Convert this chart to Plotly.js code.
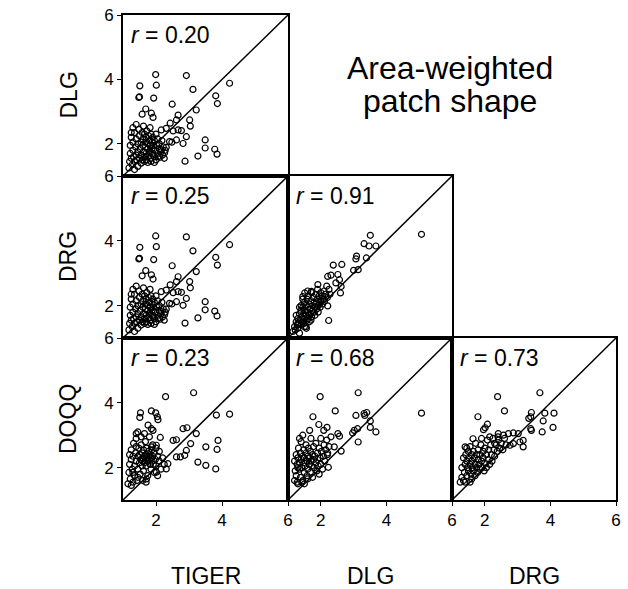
<!DOCTYPE html>
<html>
<head>
<meta charset="utf-8">
<script src="https://cdn.plot.ly/plotly-3.0.1.min.js"></script>
<style>html,body{margin:0;padding:0;background:#fff}#chart{width:628px;height:589px}</style>
</head>
<body>
<div id="chart"></div>
<script>
// Variables (row / column labels)
const rowLabels = ["DLG", "DRG", "DOQQ"];
const colLabels = ["TIGER", "DLG", "DRG"];
const titleLines = ["Area-weighted", "patch shape"];
const tickValues = [2, 4, 6];
const axisRange = [1, 6];

// Correlation coefficients per panel
const rTigerDlg = "0.20";
const rTigerDrg = "0.25";
const rDlgDrg = "0.91";
const rTigerDoqq = "0.23";
const rDlgDoqq = "0.68";
const rDrgDoqq = "0.73";

// Points [x, y]
// TIGER (x) vs DLG (y); the TIGER vs DRG panel shows the same scatter
const tigerVsDlg = [
  [1.99,4.15],[2.92,4.12],[1.51,3.80],[2.01,3.82],[3.12,3.69],[4.23,3.88],[1.48,3.44],[1.50,3.46],
  [1.93,3.42],[3.81,3.49],[3.86,3.25],[2.49,3.23],[3.22,3.05],[1.69,3.08],[1.86,2.95],[1.91,2.82],
  [1.58,2.92],[2.67,2.89],[2.43,2.64],[3.02,2.74],[3.04,2.55],[2.62,2.74],[2.31,2.48],[2.16,2.43],
  [2.52,2.40],[2.67,2.43],[2.77,2.41],[2.92,2.22],[2.82,2.01],[2.62,2.12],[2.48,2.05],[3.49,2.12],
  [3.49,1.87],[3.78,1.83],[3.85,1.68],[3.27,1.62],[2.88,1.46],[2.31,1.89],[2.16,1.81],[2.26,1.72],
  [2.41,2.07],[2.06,1.60],[1.91,1.65],
  [1.18,1.25],[1.20,1.45],[1.22,1.70],[1.22,1.95],[1.25,2.20],[1.25,1.55],[1.28,1.35],[1.30,1.80],
  [1.30,2.05],[1.32,1.60],[1.35,2.35],[1.35,1.45],[1.38,1.90],[1.40,2.15],[1.40,1.65],[1.42,1.50],
  [1.45,2.00],[1.45,1.75],[1.48,2.45],[1.50,1.55],[1.50,2.25],[1.52,1.85],[1.55,2.05],[1.55,1.65],
  [1.58,2.35],[1.58,1.50],[1.60,1.95],[1.60,2.15],[1.62,1.75],[1.62,2.55],[1.65,1.60],[1.65,2.30],
  [1.68,1.90],[1.68,2.05],[1.70,1.70],[1.70,2.20],[1.72,1.50],[1.72,2.40],[1.75,1.85],[1.75,2.00],
  [1.78,2.25],[1.78,1.62],[1.80,2.10],[1.80,1.75],[1.82,1.95],[1.82,2.50],[1.85,1.55],[1.85,2.30],
  [1.88,1.85],[1.88,2.05],[1.90,1.70],[1.90,2.20],[1.92,1.95],[1.95,1.60],[1.95,2.10],[1.98,1.80],
  [2.00,2.30],[2.00,1.50],[2.02,1.95],[2.05,2.15],[2.05,1.70],[2.10,1.85],[2.10,2.00],[2.12,1.58],
  [2.15,1.75],[2.18,2.10],[2.20,1.65],[2.22,1.90],[2.25,1.55],[2.28,1.80],[1.35,1.20],[1.45,1.30],
  [1.55,1.40],[1.65,1.45],[1.75,1.42],[1.85,1.45],[1.95,1.42],[1.30,2.50],[1.40,2.60],[1.25,2.35]
];

// DLG (x) vs DRG (y)
const dlgVsDrg = [
  [5.07,4.20],[3.51,4.17],[3.32,3.91],[3.47,3.84],[3.68,3.84],[3.09,3.53],[3.07,3.44],[3.39,3.47],
  [3.00,3.09],[3.14,3.11],[2.38,3.25],[2.64,3.27],[2.31,2.94],[2.21,2.90],[2.52,2.96],[2.57,2.80],
  [2.46,2.70],[2.62,2.59],[2.60,2.39],[1.91,2.65],[1.71,2.44],[1.51,2.39],[1.45,2.28],[2.24,1.54],
  [1.56,1.30],[2.21,1.99],[2.01,2.18],[2.11,2.13],
  [1.15,1.20],[1.20,1.35],[1.22,1.25],[1.25,1.50],[1.28,1.40],[1.30,1.30],[1.30,1.60],[1.33,1.45],
  [1.35,1.75],[1.38,1.55],[1.40,1.40],[1.40,1.85],[1.42,1.65],[1.45,1.50],[1.45,1.95],[1.48,1.75],
  [1.50,1.60],[1.50,2.10],[1.52,1.85],[1.55,1.70],[1.55,2.00],[1.58,1.55],[1.58,2.20],[1.60,1.80],
  [1.60,1.95],[1.62,2.30],[1.65,1.70],[1.65,2.05],[1.68,1.90],[1.70,1.75],[1.70,2.15],[1.72,2.40],
  [1.75,1.85],[1.75,2.00],[1.78,2.25],[1.80,1.80],[1.80,2.10],[1.82,1.95],[1.85,2.35],[1.85,2.05],
  [1.88,1.90],[1.90,2.20],[1.90,2.50],[1.92,2.00],[1.95,2.30],[1.95,2.10],[1.98,1.95],[2.00,2.40],
  [2.00,2.15],[2.05,2.30],[2.05,2.05],[2.10,2.45],[2.10,2.20],[2.15,2.35],[2.18,2.60],[2.20,2.25],
  [2.25,2.50],[2.28,2.35],[1.30,1.45],[1.48,1.45],[1.62,1.60],[1.72,1.65],[1.35,1.15],[1.55,1.35],
  [1.65,1.50],[1.40,2.00],[1.45,2.20],[1.35,1.95],[1.25,1.70],[1.60,2.45],[1.70,1.55],[1.50,1.35],
  [1.82,1.70],[1.92,1.80]
];

// TIGER (x) vs DOQQ (y)
const tigerVsDoqq = [
  [2.29,4.19],[3.14,4.31],[1.86,3.75],[1.53,3.69],[1.51,3.55],[1.99,3.69],[2.04,3.57],[2.06,3.48],
  [3.83,3.62],[4.23,3.65],[2.82,3.20],[2.94,3.23],[3.22,3.05],[3.88,2.84],[3.51,2.64],[3.85,2.56],
  [3.05,2.74],[2.62,2.86],[2.52,2.84],[2.92,2.53],[2.87,2.38],[2.74,2.33],[2.62,2.33],[3.27,2.17],
  [3.51,2.07],[3.81,1.96],[2.36,2.12],[2.31,1.96],[2.13,2.93],[2.01,2.69],[1.86,2.64],[1.76,3.31],
  [1.86,3.20],[1.91,3.15],[1.45,3.10],[1.40,3.05],[1.71,1.65],[2.01,1.86],
  [1.15,1.50],[1.18,1.85],[1.20,2.10],[1.20,2.40],[1.22,1.65],[1.25,2.25],[1.25,2.55],[1.28,1.95],
  [1.30,1.55],[1.30,2.35],[1.32,2.75],[1.35,2.05],[1.35,1.75],[1.38,2.45],[1.40,2.20],[1.40,2.90],
  [1.42,1.60],[1.45,2.35],[1.45,1.95],[1.48,2.60],[1.50,2.15],[1.50,2.40],[1.52,1.80],[1.55,2.25],
  [1.55,2.70],[1.58,2.05],[1.58,2.45],[1.60,2.30],[1.60,2.20],[1.62,1.90],[1.62,2.55],[1.65,2.35],
  [1.65,2.15],[1.68,2.80],[1.68,2.25],[1.70,2.40],[1.70,2.05],[1.72,2.30],[1.72,2.60],[1.75,2.20],
  [1.75,1.75],[1.78,2.35],[1.78,2.50],[1.80,2.25],[1.80,2.95],[1.82,2.10],[1.82,2.40],[1.85,2.30],
  [1.85,1.95],[1.88,2.55],[1.88,2.20],[1.90,2.70],[1.90,2.35],[1.92,2.10],[1.95,2.45],[1.95,1.85],
  [1.98,2.25],[2.00,2.60],[2.00,2.05],[2.05,2.35],[2.05,1.75],[2.10,2.20],[2.10,2.50],[2.15,1.95],
  [2.20,2.30],[2.25,2.10],[1.30,1.85],[1.45,1.70],[1.60,1.60],[1.70,1.55],[1.25,1.45],[1.40,2.65],
  [1.55,2.95],[1.65,3.05]
];

// DLG (x) vs DOQQ (y)
const dlgVsDoqq = [
  [1.98,4.19],[3.14,4.31],[5.07,3.68],[2.44,3.75],[1.76,3.57],[3.07,3.61],[3.32,3.67],[3.40,3.70],
  [3.34,3.61],[1.94,3.33],[3.51,3.44],[3.51,3.24],[3.68,3.10],[3.02,3.15],[3.12,3.20],[2.97,3.07],
  [3.14,2.79],[2.52,3.05],[2.57,2.97],[2.62,2.51],[2.41,2.64],[2.23,2.01],[2.19,3.24],[2.09,3.15],
  [2.31,2.95],[1.66,3.15],[2.21,2.45],
  [1.20,1.60],[1.20,2.20],[1.22,1.90],[1.25,2.40],[1.25,1.75],[1.28,2.10],[1.30,1.50],[1.30,2.30],
  [1.32,2.60],[1.35,1.95],[1.35,2.15],[1.38,1.70],[1.38,2.45],[1.40,2.25],[1.40,2.80],[1.42,2.00],
  [1.45,2.35],[1.45,1.60],[1.48,2.15],[1.48,2.55],[1.50,1.85],[1.50,2.30],[1.52,2.05],[1.55,2.45],
  [1.55,2.70],[1.58,2.20],[1.58,1.75],[1.60,2.35],[1.60,1.95],[1.62,2.60],[1.65,2.10],[1.65,2.30],
  [1.68,1.85],[1.68,2.50],[1.70,2.20],[1.70,2.90],[1.72,2.05],[1.75,2.40],[1.75,1.70],[1.78,2.25],
  [1.78,2.65],[1.80,2.00],[1.82,2.35],[1.85,2.15],[1.85,2.75],[1.88,1.90],[1.90,2.45],[1.90,2.25],
  [1.92,2.05],[1.95,2.60],[1.95,1.80],[1.98,2.30],[2.00,2.10],[2.02,2.50],[2.05,1.95],[2.08,2.35],
  [2.10,2.70],[2.12,2.20],[2.15,2.55],[2.18,2.85],[2.20,2.40],[2.25,2.65],[1.28,1.55],[1.42,1.55],
  [1.50,1.50],[1.60,1.65],[1.35,2.90],[1.45,3.00],[2.00,2.90],[1.30,2.00]
];

// DRG (x) vs DOQQ (y)
const drgVsDoqq = [
  [2.39,4.19],[3.68,4.31],[2.60,3.75],[1.79,3.57],[3.42,3.70],[3.40,3.57],[3.34,3.52],[3.83,3.68],
  [4.11,3.68],[3.78,3.44],[4.08,3.24],[3.75,3.10],[3.40,3.20],[3.42,3.15],[2.08,3.34],[2.01,3.23],
  [1.96,3.17],[3.02,3.05],[2.87,3.07],[3.17,2.84],[3.07,2.79],[3.17,2.64],[2.77,2.69],[2.87,2.74],
  [1.64,2.89],[2.41,3.05],[2.57,3.00],[2.72,3.05],[1.40,2.64],
  [1.25,1.55],[1.30,1.70],[1.30,2.00],[1.35,1.60],[1.35,2.30],[1.38,1.85],[1.40,2.10],[1.42,2.40],
  [1.45,1.75],[1.45,2.20],[1.48,2.00],[1.50,2.50],[1.50,1.90],[1.52,2.30],[1.55,2.10],[1.55,2.65],
  [1.58,1.80],[1.60,2.40],[1.60,2.20],[1.62,2.00],[1.65,2.50],[1.65,1.90],[1.68,2.30],[1.70,2.10],
  [1.72,2.75],[1.75,2.00],[1.75,2.40],[1.78,1.85],[1.80,2.25],[1.80,2.55],[1.82,2.10],[1.85,1.95],
  [1.85,2.40],[1.88,2.70],[1.90,2.20],[1.92,2.00],[1.95,2.50],[1.95,2.30],[1.98,1.90],[2.00,2.60],
  [2.00,2.15],[2.05,2.40],[2.05,2.00],[2.08,2.85],[2.10,2.25],[2.12,2.55],[2.15,2.10],[2.18,2.70],
  [2.20,2.40],[2.22,2.20],[2.25,2.90],[2.28,2.55],[2.30,2.35],[2.35,2.70],[2.38,2.50],[2.42,2.85],
  [2.45,2.60],[2.50,2.75],[2.55,2.55],[2.60,2.90],[2.65,2.70],[1.40,1.55],[1.55,1.55],[1.70,1.75],
  [1.60,1.65],[2.15,2.95],[1.90,2.90],[1.45,2.60],[2.30,2.75],[2.40,2.95]
];

// Panels: [data, row, col, r]
const panels = [
  [tigerVsDlg, 0, 0, rTigerDlg],
  [tigerVsDlg, 1, 0, rTigerDrg],
  [dlgVsDrg, 1, 1, rDlgDrg],
  [tigerVsDoqq, 2, 0, rTigerDoqq],
  [dlgVsDoqq, 2, 1, rDlgDoqq],
  [drgVsDoqq, 2, 2, rDrgDoqq]
];

const W = 628, H = 589;
const colPx = [[123, 288], [288, 452], [452, 616]];
const rowPx = [[15, 176], [176, 338], [338, 500]];
const FONT = "Liberation Sans, Arial, sans-serif";

const traces = [];
const layout = {
  width: W, height: H,
  margin: {l: 0, r: 0, t: 0, b: 0},
  paper_bgcolor: "#fff", plot_bgcolor: "rgba(0,0,0,0)",
  showlegend: false,
  font: {family: FONT, color: "#000"},
  shapes: [], annotations: []
};

panels.forEach((p, i) => {
  const [data, row, col, r] = p;
  const n = i + 1;
  const xa = "xaxis" + (n === 1 ? "" : n);
  const ya = "yaxis" + (n === 1 ? "" : n);
  const xr = "x" + (n === 1 ? "" : n);
  const yr = "y" + (n === 1 ? "" : n);
  traces.push({
    type: "scatter", mode: "markers",
    x: data.map(d => d[0]), y: data.map(d => d[1]),
    xaxis: xr, yaxis: yr,
    marker: {symbol: "circle-open", size: 6, color: "#000", line: {width: 1.2, color: "#000"}},
    hoverinfo: "skip"
  });
  const bottom = row === 2, left = col === 0;
  layout[xa] = {
    domain: [colPx[col][0] / W, colPx[col][1] / W],
    range: axisRange, anchor: yr,
    showgrid: false, zeroline: false,
    showline: true, mirror: true, linecolor: "#000", linewidth: 1.8,
    tickvals: tickValues, ticks: bottom ? "outside" : "", ticklen: 4, tickcolor: "#000",
    showticklabels: bottom, tickfont: {size: 17, family: FONT, color: "#000"}
  };
  layout[ya] = {
    domain: [1 - rowPx[row][1] / H, 1 - rowPx[row][0] / H],
    range: axisRange, anchor: xr,
    showgrid: false, zeroline: false,
    showline: true, mirror: true, linecolor: "#000", linewidth: 1.8,
    tickvals: tickValues, ticks: left ? "outside" : "", ticklen: 4, tickcolor: "#000",
    showticklabels: left, tickfont: {size: 17, family: FONT, color: "#000"}
  };
  layout.shapes.push({
    type: "line", xref: xr, yref: yr,
    x0: axisRange[0], y0: axisRange[0], x1: axisRange[1], y1: axisRange[1],
    line: {color: "#000", width: 1.5}
  });
  layout.annotations.push({
    xref: xr, yref: yr, x: 1.17, y: 5.38, xanchor: "left", yanchor: "middle",
    text: "<i>r</i> = " + r, showarrow: false,
    font: {size: 23, family: FONT, color: "#000"}
  });
});

// Row labels (left, rotated)
rowLabels.forEach((t, i) => {
  layout.annotations.push({
    xref: "paper", yref: "paper", x: 68 / W, y: 1 - ((rowPx[i][0] + rowPx[i][1]) / 2) / H,
    text: t, textangle: -90, showarrow: false, xanchor: "center", yanchor: "middle",
    font: {size: 23, family: FONT, color: "#000"}
  });
});
// Column labels (bottom)
colLabels.forEach((t, i) => {
  layout.annotations.push({
    xref: "paper", yref: "paper", x: ((colPx[i][0] + colPx[i][1]) / 2) / W, y: 1 - 576 / H,
    text: t, showarrow: false, xanchor: "center", yanchor: "middle",
    font: {size: 23, family: FONT, color: "#000"}
  });
});
// Title (two lines)
const titleY = [68, 101];
titleLines.forEach((t, i) => {
  layout.annotations.push({
    xref: "paper", yref: "paper", x: 450 / W, y: 1 - titleY[i] / H,
    text: t, showarrow: false, xanchor: "center", yanchor: "middle",
    font: {size: 32, family: FONT, color: "#000"}
  });
});

Plotly.newPlot("chart", traces, layout, {displayModeBar: false, staticPlot: true});
</script>
</body>
</html>
